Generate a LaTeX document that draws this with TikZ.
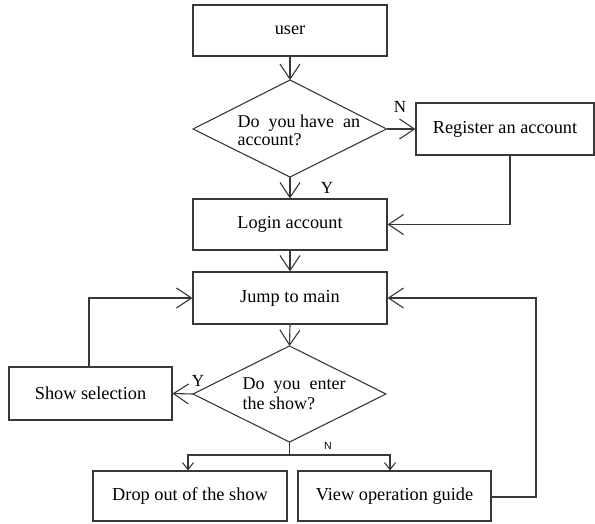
\documentclass[tikz,border=0pt]{standalone}
\usepackage{fontspec}
\setmainfont{Liberation Serif}
\newfontfamily\labsans{Liberation Sans}
\usetikzlibrary{arrows.meta,calc}
\begin{document}
\begin{tikzpicture}[x=1pt,y=1pt,
  line width=1.1pt,
  ln/.style={draw=black!78},
  box/.style={draw=black!78, rectangle, inner sep=0pt, font=\fontsize{18.3}{19}\selectfont},
  dia/.style={draw=black!78},
  arr/.style={draw=black!78, -{Straight Barb[length=15pt,width=20pt]}},
  sarr/.style={draw=black!78, -{Straight Barb[length=7pt,width=11pt]}},
  lab/.style={inner sep=0pt, font=\fontsize{17}{18}\selectfont},
  dtext/.style={inner sep=0pt, anchor=west, align=left}
]
\useasboundingbox (0,0) rectangle (595,-523);
% boxes
\node[box, minimum width=194pt, minimum height=51pt] (user) at (290,-30.5) {user};
\node[box, minimum width=178pt, minimum height=52pt] (reg) at (505,-129) {Register an account};
\node[box, minimum width=194pt, minimum height=51pt] (login) at (290,-224.5) {Login account};
\node[box, minimum width=194pt, minimum height=52pt] (jump) at (290,-298) {Jump to main};
\node[box, minimum width=163pt, minimum height=53pt] (show) at (90.5,-393.5) {Show selection};
\node[box, minimum width=194pt, minimum height=50pt] (drop) at (190,-496) {Drop out of the show};
\node[box, minimum width=193pt, minimum height=50pt] (view) at (394.5,-496) {View operation guide};
% diamonds
\coordinate (d1n) at (290,-80);
\coordinate (d1e) at (386.5,-129);
\coordinate (d1s) at (290,-177);
\coordinate (d1w) at (193,-129);
\draw[dia] (d1n) -- (d1e) -- (d1s) -- (d1w) -- cycle;
\node[dtext, font=\fontsize{18}{18}\selectfont] (d1t) at (237,-130) {Do\ \ you have\ \ an\\account?};
\coordinate (d2n) at (289.5,-346);
\coordinate (d2e) at (386,-394);
\coordinate (d2s) at (289.5,-442);
\coordinate (d2w) at (193,-394);
\draw[dia] (d2n) -- (d2e) -- (d2s) -- (d2w) -- cycle;
\node[dtext, font=\fontsize{18}{20}\selectfont] (d2t) at (242,-394) {Do\ \ you\ \ enter\\the show?};
% connectors
\draw[arr] (user.south) -- (d1n);
\draw[arr] (d1s) -- (login.north);
\draw[arr] (d1e) -- (reg.west);
\draw[arr] ([xshift=5pt]reg.south) |- (login.east);
\draw[arr] (login.south) -- (jump.north);
\draw[arr] (jump.south) -- (d2n);
\draw[arr] (d2w) -- (show.east);
\draw[arr] ([xshift=-1.5pt]show.north) |- (jump.west);
\coordinate (rc) at (536,-298);
\draw[arr] ([yshift=-1pt]view.east) -| (rc) -- (jump.east);
\coordinate (nb) at (289.5,-455);
\draw[ln] (d2s) -- (nb);
\draw[sarr] (nb) -| ([xshift=-2pt]drop.north);
\draw[sarr] (nb) -| ([xshift=-4.5pt]view.north);
% labels
\node[lab] (lN1) at (400,-107) {N};
\node[lab] (lY1) at (327,-188) {Y};
\node[lab] (lY2) at (198,-381) {Y};
\node[inner sep=0pt, font=\labsans\fontsize{10.5}{12}\selectfont] (lN2) at (328,-446) {N};
\end{tikzpicture}
\end{document}
